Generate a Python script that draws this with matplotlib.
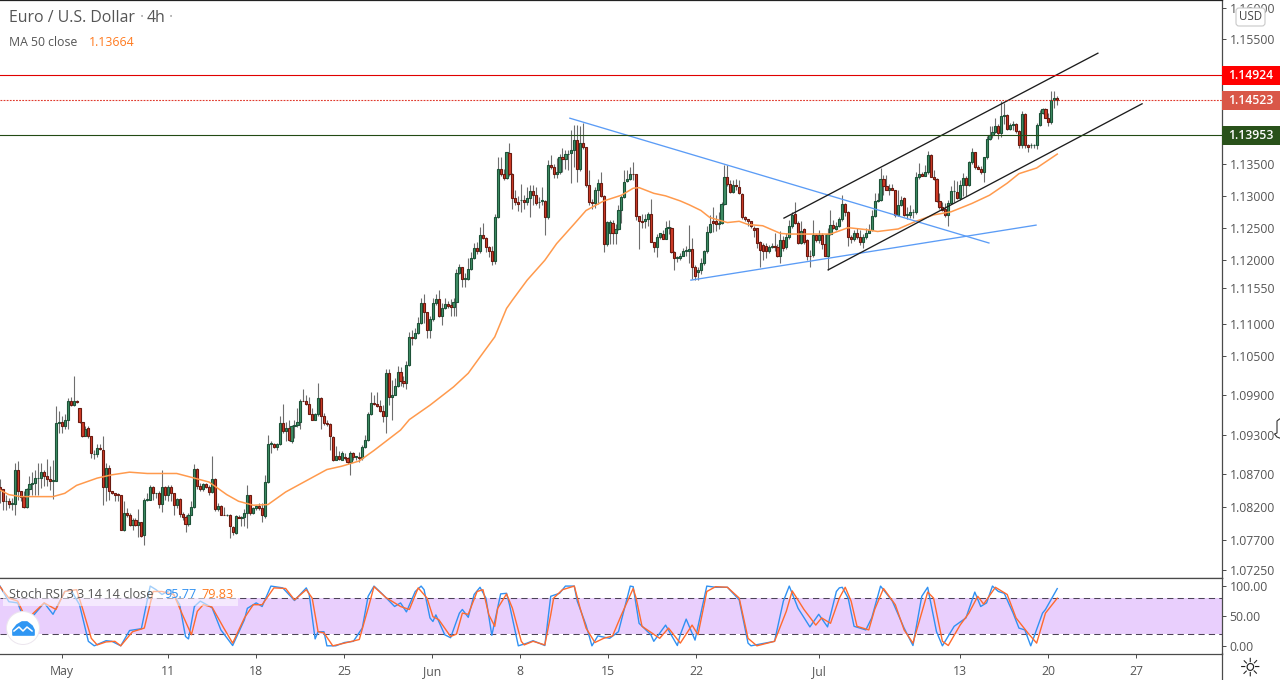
#!/usr/bin/env python
import numpy as np
import matplotlib
matplotlib.use('Agg')
import matplotlib.pyplot as plt
from matplotlib.lines import Line2D
from matplotlib.patches import Rectangle, Circle, Polygon, FancyBboxPatch
from matplotlib.ticker import FixedLocator, FixedFormatter, NullLocator
from matplotlib.transforms import Affine2D

plt.rcParams['font.family'] = ['Open Sans', 'DejaVu Sans']

# 4h EUR/USD candles, prices times 10000
opens = [
    10850,10848,10829,10829,10825,10825,10877,10844,10836,10820,
    10847,10855,10856,10864,10864,10873,10867,10863,10860,10860,
    10948,10950,10943,10953,10982,10976,10982,10971,10950,10928,
    10940,10928,10900,10900,10909,10907,10851,10879,10845,10841,
    10840,10838,10785,10812,10808,10793,10801,10793,10798,10778,
    10831,10831,10851,10841,10842,10825,10851,10838,10851,10841,
    10824,10832,10810,10806,10794,10808,10820,10878,10852,10847,
    10855,10851,10843,10863,10817,10822,10809,10808,10809,10790,
    10781,10806,10804,10806,10812,10838,10811,10819,10822,10819,
    10807,10858,10916,10916,10911,10916,10948,10935,10940,10920,
    10943,10944,10950,10982,10981,10977,10962,10953,10961,10986,
    10959,10948,10947,10927,10892,10897,10892,10896,10895,10889,
    10902,10896,10896,10894,10911,10922,10962,10978,10977,10974,
    10966,10958,11024,10988,10991,11004,11026,11012,11009,11037,
    11080,11079,11086,11101,11133,11119,11091,11108,11133,11139,
    11112,11125,11131,11130,11127,11134,11179,11188,11170,11170,
    11186,11203,11218,11214,11239,11234,11219,11214,11198,11267,
    11343,11335,11328,11367,11334,11296,11291,11293,11293,11291,
    11296,11308,11301,11290,11292,11292,11266,11349,11345,11335,
    11338,11361,11359,11366,11367,11373,11388,11342,11383,11377,
    11317,11290,11288,11310,11321,11300,11224,11241,11258,11241,
    11248,11277,11298,11324,11327,11335,11334,11268,11260,11260,
    11264,11272,11228,11219,11236,11240,11233,11250,11250,11212,
    11203,11202,11206,11214,11214,11217,11188,11180,11184,11195,
    11213,11243,11261,11261,11256,11258,11287,11329,11319,11306,
    11317,11314,11303,11266,11263,11260,11249,11249,11227,11223,
    11222,11213,11220,11221,11220,11206,11231,11220,11235,11252,
    11272,11257,11226,11248,11231,11206,11207,11239,11231,11239,
    11225,11206,11240,11254,11248,11253,11263,11287,11274,11236,
    11232,11242,11236,11228,11236,11242,11246,11269,11292,11294,
    11327,11315,11310,11312,11309,11270,11286,11296,11270,11270,
    11274,11275,11330,11335,11332,11337,11365,11330,11326,11292,
    11283,11279,11270,11289,11307,11306,11296,11317,11328,11317,
    11353,11369,11345,11343,11337,11361,11390,11397,11401,11411,
    11399,11427,11428,11406,11412,11414,11402,11381,11430,11381,
    11380,11380,11380,11412,11431,11437,11424,11417,11452,11455,
]
closes = [
    10848,10829,10829,10825,10825,10877,10844,10836,10820,10847,
    10855,10856,10864,10864,10873,10867,10863,10860,10860,10948,
    10950,10943,10953,10982,10976,10982,10980,10949,10928,10939,
    10928,10902,10901,10909,10908,10851,10879,10845,10841,10839,
    10838,10785,10812,10808,10793,10801,10793,10798,10777,10831,
    10831,10851,10841,10841,10825,10851,10838,10851,10841,10824,
    10832,10810,10806,10794,10808,10820,10878,10852,10847,10855,
    10851,10843,10863,10817,10822,10809,10808,10808,10791,10782,
    10807,10804,10806,10812,10838,10811,10819,10822,10819,10808,
    10858,10916,10916,10911,10916,10948,10935,10940,10922,10943,
    10944,10950,10982,10981,10977,10962,10953,10961,10986,10959,
    10948,10947,10928,10892,10897,10893,10902,10895,10889,10902,
    10896,10896,10894,10911,10922,10962,10978,10977,10974,10966,
    10958,11025,10988,10991,11004,11026,11012,11009,11037,11080,
    11079,11086,11101,11132,11119,11091,11107,11133,11139,11112,
    11124,11131,11128,11127,11134,11179,11188,11170,11170,11186,
    11203,11218,11214,11239,11234,11219,11214,11198,11267,11343,
    11335,11328,11369,11334,11296,11291,11287,11293,11291,11296,
    11308,11301,11289,11291,11292,11266,11349,11345,11335,11338,
    11361,11359,11366,11366,11373,11389,11342,11383,11377,11317,
    11290,11288,11310,11321,11300,11224,11259,11259,11241,11248,
    11277,11298,11322,11327,11335,11334,11268,11260,11259,11264,
    11271,11228,11219,11236,11241,11233,11250,11250,11212,11203,
    11203,11206,11213,11214,11217,11188,11175,11184,11195,11213,
    11243,11255,11257,11256,11258,11287,11329,11319,11306,11317,
    11316,11304,11266,11263,11260,11252,11247,11226,11215,11214,
    11213,11219,11220,11220,11206,11231,11218,11235,11252,11270,
    11257,11226,11244,11228,11206,11205,11239,11231,11239,11225,
    11206,11240,11254,11249,11253,11263,11287,11274,11236,11232,
    11242,11236,11228,11236,11242,11246,11269,11292,11294,11327,
    11315,11310,11313,11310,11270,11286,11293,11270,11270,11274,
    11275,11330,11335,11332,11337,11365,11330,11326,11292,11283,
    11278,11270,11289,11308,11307,11296,11317,11328,11317,11353,
    11369,11345,11343,11337,11361,11390,11397,11401,11411,11399,
    11427,11428,11406,11412,11414,11402,11381,11430,11381,11378,
    11380,11380,11412,11431,11437,11424,11417,11452,11455,11452,
]
highs = [
    10862,10848,10838,10834,10834,10887,10890,10844,10844,10849,
    10867,10874,10877,10887,10887,10877,10893,10882,10892,10974,
    10966,10958,10961,10986,10988,11020,10983,10971,10950,10943,
    10943,10928,10907,10916,10916,10928,10887,10884,10845,10841,
    10841,10839,10829,10819,10811,10803,10803,10817,10798,10834,
    10841,10854,10852,10841,10844,10877,10852,10854,10854,10841,
    10834,10834,10813,10808,10811,10829,10886,10879,10857,10857,
    10857,10854,10898,10864,10826,10824,10821,10810,10810,10791,
    10808,10808,10807,10817,10853,10839,10821,10824,10826,10826,
    10868,10929,10920,10918,10918,10958,10977,10950,10953,10945,
    10953,10971,10984,11000,10991,10988,10971,10963,11009,10987,
    10963,10953,10948,10928,10913,10905,10905,10902,10896,10905,
    10903,10898,10904,10914,10930,10965,10995,10990,10995,10983,
    10975,11031,11031,11014,11016,11035,11033,11020,11043,11088,
    11091,11094,11110,11140,11146,11119,11112,11140,11147,11153,
    11133,11141,11136,11139,11140,11185,11193,11189,11179,11202,
    11212,11226,11228,11251,11257,11235,11222,11221,11272,11362,
    11362,11343,11370,11383,11336,11310,11300,11319,11301,11314,
    11317,11317,11314,11298,11314,11293,11356,11364,11351,11360,
    11366,11375,11373,11373,11404,11412,11412,11410,11415,11378,
    11341,11295,11314,11327,11338,11301,11261,11262,11262,11255,
    11285,11301,11341,11341,11346,11353,11335,11269,11272,11272,
    11274,11295,11228,11240,11242,11246,11261,11262,11251,11213,
    11205,11210,11218,11222,11254,11234,11192,11188,11203,11215,
    11252,11270,11282,11270,11274,11291,11349,11349,11325,11325,
    11326,11325,11304,11268,11263,11260,11252,11249,11229,11226,
    11226,11223,11226,11242,11224,11244,11237,11241,11262,11275,
    11290,11261,11260,11250,11232,11215,11262,11240,11246,11241,
    11240,11250,11278,11262,11259,11266,11302,11288,11276,11239,
    11247,11249,11246,11240,11249,11255,11278,11305,11305,11344,
    11333,11333,11318,11318,11310,11310,11300,11298,11283,11285,
    11279,11338,11352,11338,11349,11371,11366,11341,11328,11305,
    11291,11288,11294,11315,11325,11323,11325,11336,11331,11355,
    11375,11370,11349,11347,11362,11394,11410,11410,11423,11414,
    11450,11447,11430,11415,11418,11415,11405,11434,11431,11382,
    11383,11382,11415,11436,11440,11440,11432,11467,11467,11458,
]
lows = [
    10826,10816,10816,10819,10816,10808,10831,10829,10819,10819,
    10839,10839,10839,10839,10849,10852,10852,10846,10832,10859,
    10933,10933,10938,10938,10973,10973,10978,10948,10926,10928,
    10925,10895,10893,10896,10907,10824,10829,10831,10840,10829,
    10829,10785,10784,10806,10791,10786,10791,10775,10775,10763,
    10829,10831,10831,10834,10819,10813,10831,10830,10830,10808,
    10819,10806,10801,10783,10791,10808,10819,10847,10844,10844,
    10849,10839,10841,10814,10814,10808,10808,10807,10773,10778,
    10779,10803,10791,10791,10788,10808,10810,10816,10816,10798,
    10803,10857,10902,10910,10907,10915,10933,10920,10920,10917,
    10925,10942,10938,10981,10976,10961,10952,10953,10959,10938,
    10945,10943,10907,10890,10891,10891,10891,10892,10885,10869,
    10892,10892,10888,10891,10909,10921,10960,10976,10972,10965,
    10949,10932,10975,10953,10990,11003,11005,11003,11000,11035,
    11067,11077,11085,11100,11101,11078,11078,11105,11130,11111,
    11099,11123,11124,11113,11113,11113,11178,11158,11158,11168,
    11184,11201,11208,11210,11232,11212,11204,11192,11193,11265,
    11332,11325,11327,11332,11279,11285,11276,11275,11279,11285,
    11266,11285,11285,11281,11285,11239,11264,11343,11328,11328,
    11335,11338,11343,11341,11320,11345,11322,11340,11374,11314,
    11285,11280,11281,11287,11298,11212,11222,11225,11224,11225,
    11247,11258,11297,11322,11325,11325,11262,11217,11250,11250,
    11252,11227,11212,11204,11233,11232,11232,11240,11210,11184,
    11197,11200,11206,11206,11194,11170,11168,11168,11178,11192,
    11210,11241,11243,11245,11248,11255,11285,11316,11304,11304,
    11310,11303,11264,11260,11252,11250,11236,11218,11189,11200,
    11203,11211,11218,11214,11204,11194,11213,11217,11233,11250,
    11255,11225,11224,11224,11199,11189,11204,11228,11226,11216,
    11205,11184,11238,11248,11247,11251,11260,11268,11221,11226,
    11229,11233,11223,11218,11233,11242,11244,11267,11291,11292,
    11301,11309,11301,11309,11267,11268,11284,11268,11263,11265,
    11265,11272,11327,11331,11331,11335,11330,11325,11290,11280,
    11276,11267,11253,11287,11291,11295,11294,11300,11299,11315,
    11351,11343,11342,11335,11322,11359,11388,11391,11400,11390,
    11393,11414,11404,11405,11405,11399,11375,11375,11375,11370,
    11375,11375,11374,11410,11429,11423,11411,11413,11439,11444,
]

# MA 50 read at sampled bars
ma_bars = [0,3,7,10,18,22,26,33,38,44,50,54,60,66,71,77,81,86,91,97,104,111,
           116,122,127,136,139,146,154,159,163,168,172,174,179,185,189,195,199,205,
           211,215,217,222,226,231,234,238,241,247,251,254,259,265,268,276,282,
           288,294,298,305,311,317,323,330,336,342,346,352,359]
ma_values = [10846,10839,10836,10836,10836,10841,10853,10864,10869,10873,10871,10871,
             10871,10864,10858,10839,10829,10823,10824,10843,10860,10877,
             10882,10890,10906,10937,10953,10975,11003,11024,11049,11080,11124,11137,
             11168,11199,11225,11256,11277,11292,
             11301,11312,11313,11304,11300,11292,11286,11277,11266,11258,11260,11255,
             11253,11241,11240,11240,11240,11250,11247,11244,11248,11260,11270,11275,
             11288,11301,11320,11335,11344,11366]

# Stoch RSI read at sampled bars
k_bars = [0,3,6,8,11,15,18,22,24,27,30,32,36,38,41,44,48,51,53,55,58,61,63,64,66,68,
          72,75,79,83,84,87,89,92,96,100,104,105,107,108,110,111,114,117,120,123,125,
          127,130,134,136,138,141,143,144,146,147,148,151,153,156,157,159,161,163,165,
          167,170,172,173,176,179,181,185,187,190,192,195,196,199,201,203,207,210,214,
          215,217,221,222,226,230,231,233,236,240,243,247,251,254,255,263,266,268,271,
          275,278,281,284,285,286,288,290,294,296,299,303,307,310,313,315,318,320,324,
          328,331,333,335,337,339,341,344,346,348,350,354,355,359]
k_values = [100,74,72,47,49,72,53,91,94,69,8,0.5,9,8,0.5,26,29,100,94,86,94,69,16,12,66,75,
            64,27,1,44,63,72,66,100,97,76,97,86,12,24,24,0.5,0.5,6,8,30,83,
            100,86,66,72,57,91,100,94,47,41,52,19,14,55,61,48,86,98,80,
            18,87,88,69,0.5,5,9,1,83,88,100,100,75,35,0.5,17,13,24,100,
            99,38,19,8,35,1,19,45,10,100,98,98,77,5,0.5,8,75,100,63,
            32,53,32,91,97,98,80,33,27,47,100,75,30,1,83,98,24,0.5,33,
            47,90,66,72,100,91,88,55,30,27,0.5,55,61,95.77]
d_bars = [0,3,6,9,12,15,19,22,26,28,31,33,36,39,41,45,49,52,55,59,62,65,67,69,72,76,79,
          83,86,89,93,97,100,104,106,108,110,113,117,122,125,127,131,136,139,142,145,
          147,149,153,155,157,159,162,164,166,168,169,172,174,177,178,181,185,187,188,
          191,195,197,199,202,205,208,211,215,216,218,224,227,231,235,237,240,243,247,
          251,254,257,263,267,269,273,277,279,282,285,287,289,291,295,297,300,304,307,
          310,315,317,320,322,326,329,332,334,338,342,345,349,352,355,359]
d_values = [99,80,75,44,58,72,61,91,94,63,13,2,7,8,0.5,24,30,91,91,86,52,19,58,69,65,30,5,
            47,69,69,97,96,77,94,80,24,22,0.5,5,11,63,99,81,66,61,97,80,
            49,44,16,20,55,53,91,94,52,33,63,87,63,8,2,8,2,52,80,
            94,100,63,30,6,13,17,52,96,80,33,13,30,5,35,19,91,99,98,
            80,13,0.5,8,58,92,61,35,47,38,80,98,75,33,27,61,96,69,27,
            5,90,80,8,1,35,55,83,70,98,86,47,22,5,55,79.83]
band_levels = [20, 80]

# drawn tools, (bar, price) end points
blue_lines = [((193.5, 1.1423), (335.8, 1.1226)), ((234.6, 1.1168), (351.8, 1.1254))]
black_lines = [((266.2, 1.1265), (372.8, 1.1527)), ((281.2, 1.1184), (387.8, 1.1446))]
level_red = 1.14924
level_last = 1.14523
level_green = 1.1397

price_ticks = [1.0725, 1.077, 1.082, 1.087, 1.093, 1.099, 1.105, 1.11, 1.1155,
               1.12, 1.125, 1.13, 1.135, 1.155, 1.16]
price_labels = ['%.5f' % p for p in price_ticks]
stoch_ticks = [0, 50, 100]
stoch_labels = ['0.00', '50.00', '100.00']
date_bars = [21, 57, 87, 116.8, 146.7, 176.6, 206.5, 236.3, 278.1, 326, 355.9, 385.7]
date_labels = ['May', '11', '18', '25', 'Jun', '8', '15', '22', 'Jul', '13', '20', '27']

GREY = '#555555'
AX = '#4a4a4a'
PX_PER_BAR = 2.945
W, H = 1280, 680
px = Affine2D().scale(1, -1).translate(0, H)  # pixels from the top left

fig = plt.figure(figsize=(W / 100, H / 100), dpi=100)
ax1 = fig.add_axes([0, 1 - 577.5 / H, 1222 / W, 577.5 / H])
ax2 = fig.add_axes([0, 1 - 653.5 / H, 1222 / W, 76 / H], sharex=ax1)

o = np.array(opens) / 10000
c = np.array(closes) / 10000
h = np.array(highs) / 10000
l = np.array(lows) / 10000
x = np.arange(len(o))
up = c >= o

ax1.vlines(x, l, h, color='#6e6e6e', linewidth=0.8, zorder=2)
for mask, fill, edge in [(up, '#3f8f66', '#1d5238'), (~up, '#d23c28', '#6a1a10')]:
    ax1.bar(x[mask], np.maximum(np.abs(c - o)[mask], 0.00008), bottom=np.minimum(c, o)[mask],
            width=0.72, color=fill, edgecolor=edge, linewidth=0.8, zorder=3)
ax1.plot(np.array(ma_bars), np.array(ma_values) / 10000, color='#ff9a4d', linewidth=1.1, zorder=4)

for a, b in blue_lines:
    ax1.plot([a[0], b[0]], [a[1], b[1]], color='#5b9cf6', linewidth=0.95, zorder=5)
for a, b in black_lines:
    ax1.plot([a[0], b[0]], [a[1], b[1]], color='#1c1c1c', linewidth=0.95, zorder=5)
ax1.axhline(level_red, color='#e00000', linewidth=0.8, zorder=5)
ax1.axhline(level_last, color='#e0392c', linewidth=0.8, linestyle=(0, (1.6, 1.2)), zorder=5)
ax1.axhline(level_green, color='#234a14', linewidth=0.8, zorder=5)

ax1.set_yscale('log')
ax1.set_xlim(0, 1222 / PX_PER_BAR)
ax1.set_ylim(1.07145, 1.16128)
ax1.yaxis.set_major_locator(FixedLocator(price_ticks))
ax1.yaxis.set_major_formatter(FixedFormatter(price_labels))
ax1.yaxis.set_minor_locator(NullLocator())
ax1.yaxis.tick_right()
ax1.tick_params(axis='y', length=3, width=0.7, color=AX, labelcolor=GREY, labelsize=8.8, pad=2.5)
ax1.tick_params(axis='x', bottom=False, labelbottom=False)

ax2.axhspan(band_levels[0], band_levels[1], color='#e9cffd', linewidth=0, zorder=1)
for lev in band_levels:
    ax2.axhline(lev, color='#4d4358', linewidth=0.75, linestyle=(0, (6, 4)), zorder=2)
ax2.plot(k_bars, k_values, color='#3091f2', linewidth=1.0, zorder=3)
ax2.plot(d_bars, d_values, color='#ff6a2e', linewidth=1.0, zorder=4)
ax2.set_ylim(-12.3, 114.3)
ax2.set_yticks(stoch_ticks)
ax2.set_yticklabels(stoch_labels)
ax2.yaxis.tick_right()
ax2.tick_params(axis='y', length=3, width=0.7, color=AX, labelcolor=GREY, labelsize=8.8, pad=2.5)
ax2.set_xticks(date_bars)
ax2.set_xticklabels(date_labels)
ax2.tick_params(axis='x', length=3, width=0.7, color=AX, labelcolor=GREY, labelsize=8.8, pad=5.5)

for ax in (ax1, ax2):
    ax.spines['left'].set_visible(False)
    for side in ('top', 'bottom', 'right'):
        ax.spines[side].set_color(AX)
        ax.spines[side].set_linewidth(0.9)
ax1.spines['top'].set_color('#222222')

# right edge carries on past the date row
fig.add_artist(Line2D([1222, 1222], [653, 680], color=AX, linewidth=0.9, transform=px))

# price tags
for text, y0, y1, colr in [('1.14924', 66, 84.5, '#ff0000'), ('1.14523', 91, 110, '#d95748'),
                           ('1.13953', 126, 145, '#29511a')]:
    fig.add_artist(Rectangle((1222, y0), 58, y1 - y0, facecolor=colr, edgecolor='none', transform=px))
    fig.text(1251, (y0 + y1) / 2, text, color='white', fontsize=8.8, fontweight='semibold',
             ha='center', va='center', transform=px)
fig.add_artist(FancyBboxPatch((1237, 9), 27, 16, boxstyle='round,pad=1,rounding_size=3',
                              facecolor='white', edgecolor='#c9c9c9', linewidth=0.8, transform=px))
fig.text(1250.5, 17, 'USD', color='#444444', fontsize=8.3, ha='center', va='center', transform=px)

# legends
fig.text(9, 18, 'Euro / U.S. Dollar', color=GREY, fontsize=11.4, va='center', transform=px)
fig.text(142, 18, '·', color='#aaaaaa', fontsize=11.4, va='center', ha='center', transform=px)
fig.text(156, 18, '4h', color=GREY, fontsize=11.4, va='center', ha='center', transform=px)
fig.text(171, 18, '·', color='#aaaaaa', fontsize=11.4, va='center', ha='center', transform=px)
fig.text(9, 42, 'MA 50 close', color=GREY, fontsize=8.8, va='center', transform=px)
fig.text(89, 42, '1.13664', color='#ff7a1f', fontsize=8.8, va='center', transform=px)

fig.add_artist(Rectangle((3, 585), 235, 21, facecolor='white', edgecolor='none', alpha=0.55, transform=px))
fig.text(9, 595, 'Stoch RSI 3 3 14 14 close', color=GREY, fontsize=9.1, va='center', transform=px)
fig.text(164, 595, '95.77', color='#2f91f2', fontsize=9.1, va='center', transform=px)
fig.text(201, 595, '79.83', color='#ff7a1f', fontsize=9.1, va='center', transform=px)

# logo badge
fig.add_artist(Circle((23, 628), 16.5, facecolor='white', edgecolor='#ece6ee', linewidth=0.7, transform=px, zorder=6))
fig.add_artist(Polygon([(13, 635), (13, 630), (17, 625), (22, 622), (27, 622), (32, 626), (34, 630), (34, 635)],
                       closed=True, facecolor='#2f96f3', edgecolor='#2f96f3', linewidth=1.2,
                       joinstyle='round', transform=px, zorder=7))
fig.add_artist(Line2D([14, 19, 23, 27, 32], [631, 627, 631, 627, 631], color='white', linewidth=1.1,
                      transform=px, zorder=8))

# settings icon and stray pointer at the right edge
fig.text(1250, 669, '☼', color='#222222', fontsize=18, family='DejaVu Sans', ha='center', va='center', transform=px)
fig.add_artist(Line2D([1279.5, 1277, 1277, 1274.5, 1277, 1279.5], [419, 421, 433, 434, 437, 438],
                      color='#333333', linewidth=0.8, transform=px))

fig.savefig('out.png', dpi=100)
